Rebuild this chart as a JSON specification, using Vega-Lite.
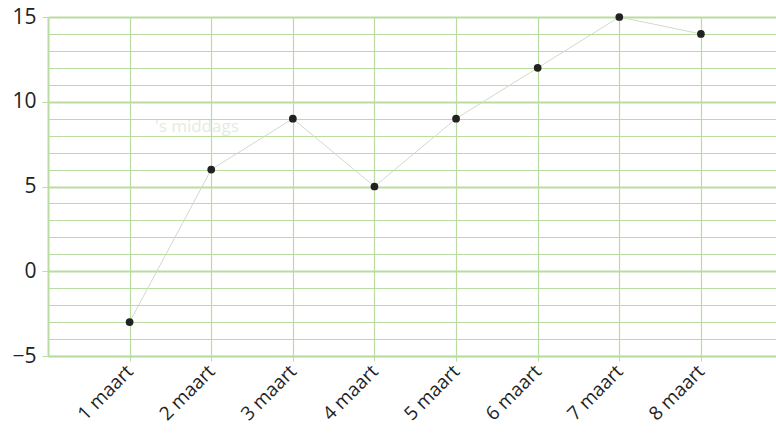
{
  "$schema": "https://vega.github.io/schema/vega-lite/v6.json",
  "autosize": {"type": "none"},
  "width": 728,
  "height": 339,
  "padding": {"left": 48, "top": 17, "right": 0, "bottom": 83},
  "background": "white",
  "config": {
    "view": {"stroke": null},
    "font": "Open Sans"
  },
  "datasets": {
    "temps": [
      {"dag": 1, "temp": -3},
      {"dag": 2, "temp": 6},
      {"dag": 3, "temp": 9},
      {"dag": 4, "temp": 5},
      {"dag": 5, "temp": 9},
      {"dag": 6, "temp": 12},
      {"dag": 7, "temp": 15},
      {"dag": 8, "temp": 14}
    ],
    "notes": [
      {"dag": 1.31, "temp": 8.5, "label": "'s middags"}
    ]
  },
  "encoding": {
    "x": {
      "field": "dag", "type": "quantitative",
      "scale": {"domain": [0, 8.92], "nice": false, "zero": false},
      "axis": {
        "values": [1, 2, 3, 4, 5, 6, 7, 8],
        "title": null,
        "labelExpr": "datum.value + ' maart'",
        "labelAngle": -45,
        "labelAlign": "right",
        "labelBaseline": "middle",
        "labelFontSize": 19,
        "labelColor": "#222222",
        "labelPadding": 7,
        "labelOverlap": false,
        "grid": true,
        "gridColor": "#b9dda0",
        "gridWidth": 1.2,
        "domain": true,
        "domainColor": "#b9dda0",
        "domainWidth": 1.5,
        "ticks": true,
        "tickColor": "#b9dda0",
        "tickSize": 5
      }
    },
    "y": {
      "field": "temp", "type": "quantitative",
      "scale": {"domain": [-5, 15], "nice": false, "zero": false},
      "axis": {
        "values": [-5, -4, -3, -2, -1, 0, 1, 2, 3, 4, 5, 6, 7, 8, 9, 10, 11, 12, 13, 14, 15],
        "title": null,
        "labelExpr": "datum.value % 5 === 0 ? (datum.value < 0 ? '−' + abs(datum.value) : '' + datum.value) : ''",
        "labelFontSize": 21,
        "labelColor": "#222222",
        "labelPadding": 6,
        "labelOverlap": false,
        "labelFlush": false,
        "grid": true,
        "gridColor": "#b9dda0",
        "gridWidth": {"condition": {"test": "datum.value % 5 === 0", "value": 1.8}, "value": 1.1},
        "domain": true,
        "domainColor": "#b9dda0",
        "domainWidth": 2,
        "ticks": true,
        "tickColor": "#b9dda0",
        "tickSize": 6,
        "tickOpacity": {"condition": {"test": "datum.value % 5 === 0", "value": 1}, "value": 0}
      }
    }
  },
  "layer": [
    {
      "data": {"name": "temps"},
      "mark": {"type": "line", "color": "#cfdcc8", "strokeWidth": 1}
    },
    {
      "data": {"name": "temps"},
      "mark": {"type": "point", "filled": true, "color": "#222222", "size": 60, "opacity": 1}
    },
    {
      "data": {"name": "notes"},
      "mark": {"type": "text", "align": "left", "baseline": "middle", "fontSize": 17, "color": "#e4ecdf"},
      "encoding": {
        "text": {"field": "label"}
      }
    }
  ]
}
